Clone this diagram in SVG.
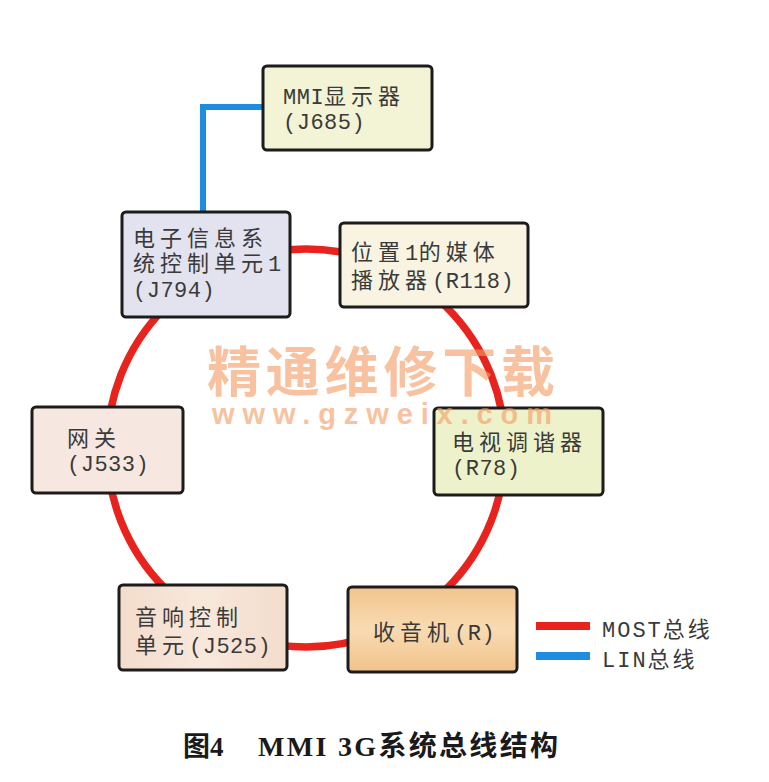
<svg xmlns="http://www.w3.org/2000/svg" width="769" height="782" viewBox="0 0 769 782">
<defs>
<style>
.box{stroke:#1c1c1c;stroke-width:3}
.t{font-size:22px;fill:#3a3a3a}
.c{font-family:"Noto Sans CJK SC","Noto Sans CJK JP",sans-serif;letter-spacing:5px}
.l{font-family:"Liberation Mono","DejaVu Sans Mono",monospace;letter-spacing:0.5px}
.most{fill:none;stroke:#e8221c;stroke-width:7.5}
.lin{fill:none;stroke:#1e8de0;stroke-width:6}
.wm{font-weight:bold;fill:#f59a62;opacity:0.6}
</style>
<linearGradient id="gRadio" x1="0" y1="0" x2="0" y2="1">
<stop offset="0" stop-color="#f2c48e"/>
<stop offset="0.5" stop-color="#f9dbb2"/>
<stop offset="1" stop-color="#f1c28a"/>
</linearGradient>
<linearGradient id="gAudio" x1="0" y1="0" x2="1" y2="0">
<stop offset="0" stop-color="#f3dccb"/>
<stop offset="0.5" stop-color="#f8e8dc"/>
<stop offset="1" stop-color="#f3dccb"/>
</linearGradient>
</defs>
<rect width="769" height="782" fill="#ffffff"/>

<g id="connectors">
<circle class="most" cx="306" cy="448" r="199"/>
<polyline class="lin" points="203,212 203,107 263,107"/>
</g>

<g id="mmi-display">
<rect class="box" x="263" y="66" width="169" height="84" rx="4" fill="#f3f3d6"/>
<text class="t" x="283" y="104"><tspan class="l">MMI</tspan><tspan class="c">显示器</tspan></text>
<text class="t" x="283" y="129"><tspan class="l">(J685)</tspan></text>
</g>

<g id="ecu">
<rect class="box" x="122" y="212" width="168" height="105" rx="4" fill="#e3e3ef"/>
<text class="t" x="133" y="246"><tspan class="c">电子信息系</tspan></text>
<text class="t" x="133" y="271"><tspan class="c">统控制单元</tspan><tspan class="l">1</tspan></text>
<text class="t" x="133" y="297"><tspan class="l">(J794)</tspan></text>
</g>

<g id="media-player">
<rect class="box" x="340" y="223" width="188" height="84" rx="4" fill="#f8f4e1"/>
<text class="t" x="351" y="260"><tspan class="c">位置</tspan><tspan class="l">1</tspan><tspan class="c">的媒体</tspan></text>
<text class="t" x="351" y="288"><tspan class="c">播放器</tspan><tspan class="l">(R118)</tspan></text>
</g>

<g id="gateway">
<rect class="box" x="32" y="407" width="151" height="86" rx="4" fill="#f6e8e0"/>
<text class="t" x="67" y="446"><tspan class="c">网关</tspan></text>
<text class="t" x="67" y="471"><tspan class="l">(J533)</tspan></text>
</g>

<g id="tv-tuner">
<rect class="box" x="434" y="408" width="169" height="87" rx="4" fill="#eef2cb"/>
<text class="t" x="452" y="450"><tspan class="c">电视调谐器</tspan></text>
<text class="t" x="452" y="475"><tspan class="l">(R78)</tspan></text>
</g>

<g id="audio-control">
<rect class="box" x="119" y="585" width="168" height="85" rx="4" fill="url(#gAudio)"/>
<text class="t" x="135" y="625"><tspan class="c">音响控制</tspan></text>
<text class="t" x="135" y="653"><tspan class="c">单元</tspan><tspan class="l">(J525)</tspan></text>
</g>

<g id="radio">
<rect class="box" x="348" y="587" width="169" height="85" rx="4" fill="url(#gRadio)"/>
<text class="t" x="373" y="640"><tspan class="c">收音机</tspan><tspan class="l">(R)</tspan></text>
</g>

<g id="legend">
<line x1="536" y1="626" x2="590" y2="626" stroke="#e8221c" stroke-width="8"/>
<line x1="536" y1="656" x2="590" y2="656" stroke="#1e8de0" stroke-width="8"/>
<text class="t" x="602" y="637"><tspan class="l" style="letter-spacing:2px">MOST</tspan><tspan class="c" style="letter-spacing:3px">总线</tspan></text>
<text class="t" x="602" y="667"><tspan class="l" style="letter-spacing:2px">LIN</tspan><tspan class="c" style="letter-spacing:3px">总线</tspan></text>
</g>

<g id="watermark">
<text class="wm" x="207" y="392" font-size="54" font-family="'Noto Sans CJK SC',sans-serif" textLength="348" lengthAdjust="spacing">精通维修下载</text>
<text class="wm" x="212" y="424" font-size="29" font-family="'Liberation Sans',sans-serif" textLength="340" lengthAdjust="spacing">www.gzweix.com</text>
</g>

<g id="caption">
<text x="183" y="756" font-size="27" font-weight="bold" fill="#1a1a1a" font-family="'Liberation Serif','Noto Sans CJK SC',serif">图4</text>
<text x="258" y="756" font-size="28" font-weight="bold" fill="#1a1a1a" font-family="'Liberation Serif','Noto Sans CJK SC',serif" textLength="300" lengthAdjust="spacing">MMI 3G系统总线结构</text>
</g>
</svg>
